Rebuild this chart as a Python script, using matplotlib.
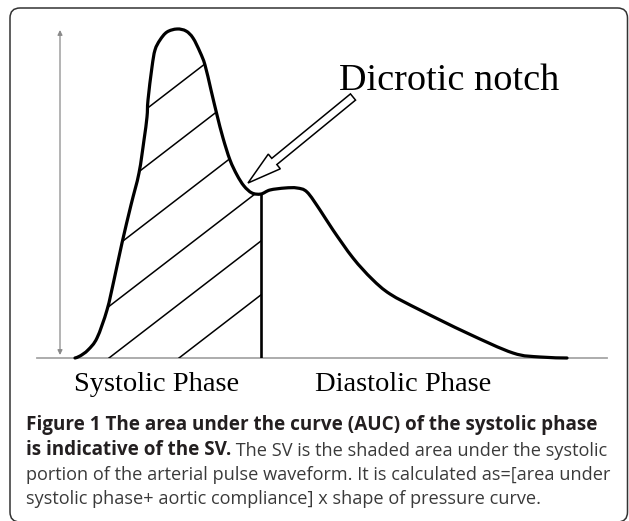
import numpy as np
import matplotlib.pyplot as plt
from matplotlib.patches import FancyBboxPatch, Polygon, FancyArrow, PathPatch
from matplotlib.path import Path

# arterial pulse waveform (time, pressure; arbitrary units)
time = [38, 43, 51, 60, 70, 77, 85, 94, 102, 107, 110, 111, 115, 118, 123, 130,
        140, 149, 156, 163, 168, 174, 180, 186, 193, 200, 207, 215, 224, 233,
        248, 260, 270, 283, 296, 316, 335, 353, 383, 430, 476, 503, 530]
pressure = [0, 2, 8, 20, 48, 78, 115, 153, 185, 218, 241, 258, 291, 308, 318, 326,
            329, 327, 320, 306, 293, 268, 243, 220, 198, 183, 172, 165, 164, 168,
            170, 170, 166, 148, 128, 100, 79, 64, 48, 25, 5, 1, 0]
notch_time = 224
axis_end = 570
amp_top = 328
hatch_start = [-214, -140, -66, 5, 72, 142]  # where each hatch line meets the baseline
hatch_slope = 0.77

phase_labels = ["Systolic Phase", "Diastolic Phase"]
notch_label = "Dicrotic notch"
cap_bold1 = "Figure 1 The area under the curve (AUC) of the systolic phase"
cap_bold2 = "is indicative of the SV."
cap_rest2 = " The SV is the shaded area under the systolic"
cap_line3 = "portion of the arterial pulse waveform. It is calculated as=[area under"
cap_line4 = "systolic phase+ aortic compliance] x shape of pressure curve."


def smooth_path(x, y):
    # catmull-rom through the points, drawn as cubic beziers
    P = np.column_stack([x, y]).astype(float)
    n = len(P)
    verts = [P[0]]
    codes = [Path.MOVETO]
    for i in range(n - 1):
        p0 = P[i - 1] if i > 0 else P[i]
        p1, p2 = P[i], P[i + 1]
        p3 = P[i + 2] if i + 2 < n else P[i + 1]
        verts += [p1 + (p2 - p0) / 6, p2 - (p3 - p1) / 6, p2]
        codes += [Path.CURVE4] * 3
    return Path(verts, codes)


W, H = 629, 521
fig = plt.figure(figsize=(W / 100, H / 100), dpi=100)

# page layer in pixel units: frame, labels, caption
page = fig.add_axes([0, 0, 1, 1])
page.set_xlim(0, W)
page.set_ylim(H, 0)
page.axis('off')
frame = FancyBboxPatch((10, 8), 617.5, 514, boxstyle='round,pad=0,rounding_size=10',
                       fc='white', ec='#333333', lw=1.1)
page.add_patch(frame)

serif = 'Liberation Serif'
page.text(339, 90, notch_label, family=serif, fontsize=27.5, va='baseline', ha='left')
page.text(157, 391, phase_labels[0], family=serif, fontsize=20.5, va='baseline', ha='center')
page.text(403, 391, phase_labels[1], family=serif, fontsize=20.5, va='baseline', ha='center')

bold_font = dict(family='Open Sans', fontsize=13.6, fontweight='bold', color='#231f20')
reg_font = dict(family='Open Sans', fontsize=13.1, color='#3a3a3a')
page.text(26, 430, cap_bold1, va='baseline', **bold_font)
b2 = page.text(26, 455, cap_bold2, va='baseline', **bold_font)
page.annotate(cap_rest2, xy=(1, 0), xycoords=b2, va='bottom', ha='left', **reg_font)
page.text(26, 479.5, cap_line3, va='baseline', **reg_font)
page.text(26, 504, cap_line4, va='baseline', **reg_font)

# waveform chart
ax = fig.add_axes([37 / W, 163 / H, 570 / W, 338 / H])
ax.set_xlim(0, 570)
ax.set_ylim(0, 338)
ax.axis('off')
ax.patch.set_alpha(0)

ax.plot([0, axis_end], [0, 0], color='#a6a6a6', lw=1.3, clip_on=False, zorder=1)
ax.annotate('', xy=(23, amp_top), xytext=(23, 3),
            arrowprops=dict(arrowstyle='<|-|>', color='#8a8a8a', lw=0.9,
                            mutation_scale=7, shrinkA=0, shrinkB=0))

t = np.array(time)
p = np.array(pressure)
sys_mask = t <= notch_time
area = Polygon(np.column_stack([np.append(t[sys_mask], notch_time),
                                np.append(p[sys_mask], 0)]),
               closed=True, fc='none', ec='none')
ax.add_patch(area)
for x0 in hatch_start:
    xs = np.array([x0, x0 + 500])
    ln, = ax.plot(xs, hatch_slope * (xs - x0), color='black', lw=1.1, zorder=2)
    ln.set_clip_path(area)

ax.add_patch(PathPatch(smooth_path(time, pressure), fc='none', ec='black', lw=2.3,
                       joinstyle='round', capstyle='round', clip_on=False, zorder=3))
ax.plot([notch_time, notch_time], [0, p[t == notch_time][0]], color='black', lw=1.9, zorder=3)

ax.add_patch(FancyArrow(316, 261, -105, -86, width=8, head_width=19, head_length=34,
                        length_includes_head=True, fc='white', ec='black', lw=1.1, zorder=4))

fig.savefig('out.png', dpi=100)
